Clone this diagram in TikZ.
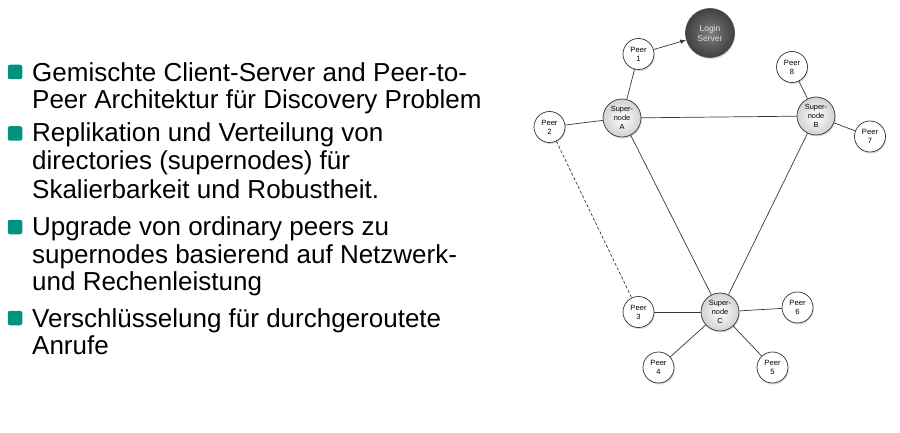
\documentclass[tikz,border=0pt]{standalone}
\usepackage{fontspec}
\setmainfont{Liberation Sans}
\usetikzlibrary{shadows,arrows.meta}
\definecolor{bullteal}{RGB}{0,148,128}
\definecolor{edgegray}{RGB}{55,55,55}
\begin{document}
\begin{tikzpicture}[x=1pt,y=-1pt,
  peer/.style={circle,draw=black!80,line width=0.7pt,fill=white,inner sep=0pt,
    minimum size=31pt,align=center,font=\fontsize{7.6}{9}\selectfont,
    drop shadow={shadow xshift=0.8pt,shadow yshift=-1.5pt,opacity=0.3}},
  super/.style={peer,minimum size=38pt,font=\fontsize{7.4}{9}\selectfont,
    inner color=white,outer color=black!18},
  server/.style={peer,minimum size=49pt,inner color=black!50,outer color=black!75,
    text=black!12,draw=black!70,font=\fontsize{8.5}{10}\selectfont},
  link/.style={draw=edgegray,line width=0.7pt},
  bullsq/.style={rectangle,rounded corners=2.2pt,fill=bullteal,minimum size=14.5pt,inner sep=0pt},
  ln/.style={anchor=base west,inner sep=0pt,font=\fontsize{26}{28}\selectfont}
]
\useasboundingbox (0,0) rectangle (900,433);

% bullet list
\node[bullsq] (b1) at (15,72) {};
\node[bullsq] (b2) at (15,133.5) {};
\node[bullsq] (b3) at (15,227) {};
\node[bullsq] (b4) at (15,318) {};
\node[ln] (l1) at (32,81.5) {Gemischte Client-Server and Peer-to-};
\node[ln] (l2) at (32,109) {Peer Architektur für Discovery Problem};
\node[ln] (l3) at (32,142) {Replikation und Verteilung von};
\node[ln] (l4) at (32,170) {directories (supernodes) für};
\node[ln] (l5) at (32,198) {Skalierbarkeit und Robustheit.};
\node[ln] (l6) at (32,235) {Upgrade von ordinary peers zu};
\node[ln] (l7) at (32,263) {supernodes basierend auf Netzwerk-};
\node[ln] (l8) at (32,290.5) {und Rechenleistung};
\node[ln] (l9) at (32,327) {Verschlüsselung für durchgeroutete};
\node[ln] (l10) at (32,354) {Anrufe};

% network
\node[server] (ls) at (710,33) {Login\\Server};
\node[peer] (p1) at (638.5,54) {Peer\\1};
\node[peer] (p8) at (792,67) {Peer\\8};
\node[super] (sa) at (622,118) {Super-\\node\\A};
\node[super] (sb) at (816,116) {Super-\\node\\B};
\node[peer] (p2) at (549.5,127) {Peer\\2};
\node[peer] (p7) at (870,136.5) {Peer\\7};
\node[super] (sc) at (720,312) {Super-\\node\\C};
\node[peer] (p3) at (638.5,312) {Peer\\3};
\node[peer] (p6) at (797.5,307.5) {Peer\\6};
\node[peer] (p4) at (658.5,367.5) {Peer\\4};
\node[peer] (p5) at (772.5,367.5) {Peer\\5};

\path[link,-{Latex[length=6pt,width=4.5pt]}] (p1) -- (ls);
\path[link] (p1) -- (sa);
\path[link] (p2) -- (sa);
\path[link] (sa) -- (sb);
\path[link] (sa) -- (sc);
\path[link] (sb) -- (sc);
\path[link] (sb) -- (p8);
\path[link] (sb) -- (p7);
\path[link] (sc) -- (p3);
\path[link] (sc) -- (p6);
\path[link] (sc) -- (p4);
\path[link] (sc) -- (p5);
\path[link,dash pattern=on 3pt off 2pt] (p2) -- (p3);
\end{tikzpicture}
\end{document}
